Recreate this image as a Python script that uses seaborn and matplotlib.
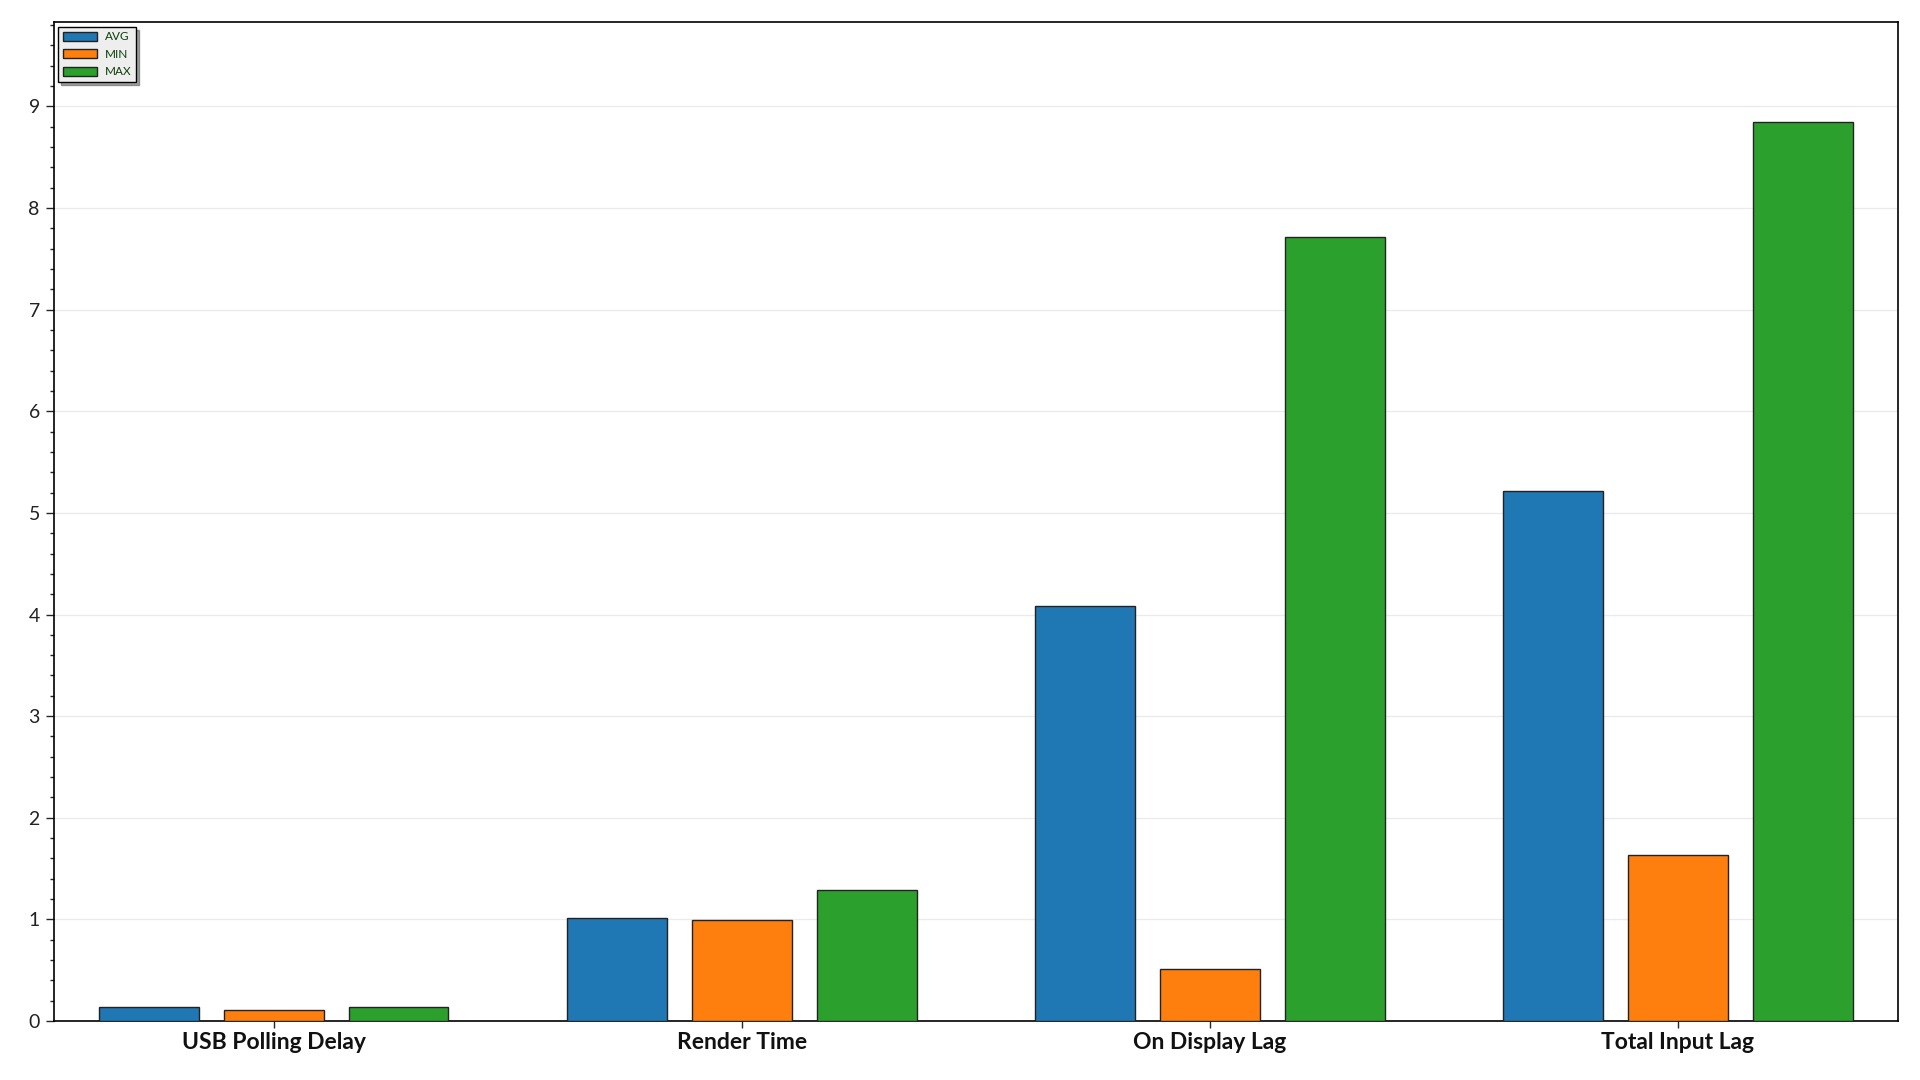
import numpy as np
import pandas as pd
import matplotlib
matplotlib.use("Agg")
import matplotlib.pyplot as plt
from matplotlib.ticker import MultipleLocator
import seaborn as sns

categories = ["USB Polling Delay", "Render Time", "On Display Lag", "Total Input Lag"]
series = ["AVG", "MIN", "MAX"]
avg_vals = [0.135, 1.01, 4.08, 5.22]
min_vals = [0.108, 0.995, 0.513, 1.635]
max_vals = [0.135, 1.294, 7.71, 8.85]
colors = ["#1f77b4", "#ff7f0e", "#2ca02c"]

df = pd.DataFrame({
    "Category": categories * 3,
    "Stat": ["AVG"] * 4 + ["MIN"] * 4 + ["MAX"] * 4,
    "Value": avg_vals + min_vals + max_vals,
})

sns.set_style("white")
plt.rcParams["font.family"] = ["Lato", "DejaVu Sans"]

fig = plt.figure(figsize=(19.2, 10.8), dpi=100)
ax = fig.add_axes([0.028, 0.0546, 0.9605, 0.925])

sns.barplot(data=df, x="Category", y="Value", hue="Stat", hue_order=series,
            palette=colors, width=0.8, gap=0.2, edgecolor="#222222",
            linewidth=1.0, saturation=1, ax=ax, zorder=3)

ax.set_xlim(-0.47, 3.47)
ax.set_ylim(0, 9.83)
ax.yaxis.set_major_locator(MultipleLocator(1))
ax.yaxis.set_minor_locator(MultipleLocator(0.2))
ax.grid(axis="y", which="major", color="#ebebeb", linewidth=1, zorder=0)
ax.set_axisbelow(True)

for s in ax.spines.values():
    s.set_visible(True)
    s.set_color("black")
    s.set_linewidth(1.2)

ax.tick_params(axis="y", which="major", left=True, length=6, width=1,
               labelsize=14, labelcolor="#222222", pad=4)
ax.tick_params(axis="y", which="minor", left=True, length=3, width=1)
ax.tick_params(axis="x", bottom=True, length=5, width=1, pad=3)
for lbl in ax.get_xticklabels():
    lbl.set_fontweight("bold")
    lbl.set_fontsize(16.5)
    lbl.set_color("#111111")
ax.set_xlabel("")
ax.set_ylabel("")

handles, labels = ax.get_legend_handles_labels()
leg = ax.legend(handles, labels, loc="upper left", fontsize=8.5,
                frameon=True, fancybox=False, shadow=True,
                facecolor="#eeeeee", edgecolor="black", framealpha=1,
                borderaxespad=0.4, handlelength=2.9, handleheight=0.8,
                handletextpad=0.6, labelspacing=0.55, borderpad=0.4)
leg.get_frame().set_linewidth(1.0)
for t in leg.get_texts():
    t.set_color("#0b3d0b")

fig.savefig("out.png", dpi=100, facecolor="white")
